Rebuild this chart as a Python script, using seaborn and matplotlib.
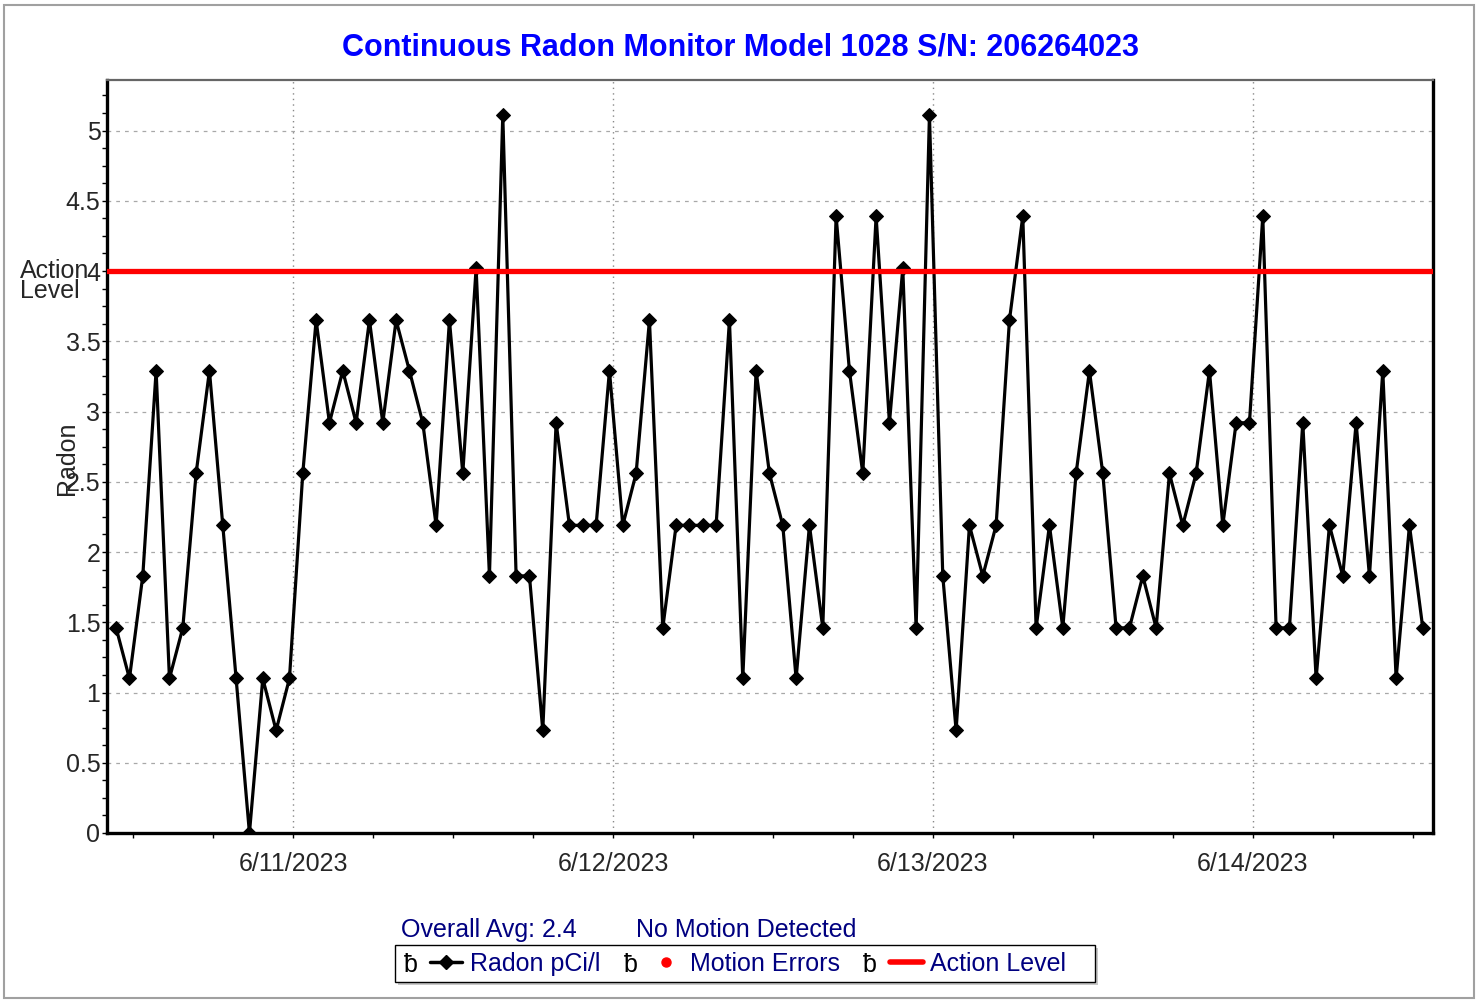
import pandas as pd
import seaborn as sns
import matplotlib.pyplot as plt
import matplotlib.dates as mdates
import matplotlib.transforms as mtransforms
from matplotlib.lines import Line2D
from matplotlib.patches import Rectangle
from matplotlib.ticker import MultipleLocator, FuncFormatter

# hourly radon readings (pCi/l)
radon = [1.46, 1.1, 1.83, 3.29, 1.1, 1.46, 2.56, 3.29, 2.19, 1.1,
         0.0, 1.1, 0.73, 1.1, 2.56, 3.65, 2.92, 3.29, 2.92, 3.65,
         2.92, 3.65, 3.29, 2.92, 2.19, 3.65, 2.56, 4.02, 1.83, 5.11,
         1.83, 1.83, 0.73, 2.92, 2.19, 2.19, 2.19, 3.29, 2.19, 2.56,
         3.65, 1.46, 2.19, 2.19, 2.19, 2.19, 3.65, 1.1, 3.29, 2.56,
         2.19, 1.1, 2.19, 1.46, 4.39, 3.29, 2.56, 4.39, 2.92, 4.02,
         1.46, 5.11, 1.83, 0.73, 2.19, 1.83, 2.19, 3.65, 4.39, 1.46,
         2.19, 1.46, 2.56, 3.29, 2.56, 1.46, 1.46, 1.83, 1.46, 2.56,
         2.19, 2.56, 3.29, 2.19, 2.92, 2.92, 4.39, 1.46, 1.46, 2.92,
         1.1, 2.19, 1.83, 2.92, 1.83, 3.29, 1.1, 2.19, 1.46]
first_reading = "2023-06-10 10:44"
x_start = "2023-06-10 10:03"
x_end = "2023-06-14 13:30"
action_level = 4.0
overall_avg = "2.4"
serial = "206264023"
legend_labels = ["Radon pCi/l", "Motion Errors", "Action Level"]

times = pd.date_range(first_reading, periods=len(radon), freq="h")
df = pd.DataFrame({"time": times, "radon": radon})

sns.set_style("white")
plt.rcParams["font.family"] = ["Liberation Sans", "DejaVu Sans"]
FS = 18

W, H = 1478, 1000
fig = plt.figure(figsize=(W / 100, H / 100), dpi=100)
ax = fig.add_axes([107 / W, 1 - 833 / H, (1433 - 107) / W, (833 - 80) / H])

sns.lineplot(data=df, x="time", y="radon", ax=ax, color="black", lw=2.3,
             marker="D", markersize=7.5, markeredgecolor="black", zorder=3)
ax.axhline(action_level, color="#ff0000", lw=3.8, zorder=4)

ax.set_xlim(pd.Timestamp(x_start), pd.Timestamp(x_end))
ax.set_ylim(0, 5.36)
ax.set_xlabel("")
ax.set_ylabel("")

ax.xaxis.set_major_locator(mdates.DayLocator())
ax.xaxis.set_minor_locator(mdates.HourLocator(byhour=[6, 12, 18]))
ax.xaxis.set_major_formatter(FuncFormatter(
    lambda v, p: "{d.month}/{d.day}/{d.year}".format(d=mdates.num2date(v))))
ax.yaxis.set_major_locator(MultipleLocator(0.5))
ax.yaxis.set_minor_locator(MultipleLocator(0.125))
ax.yaxis.set_major_formatter(FuncFormatter(lambda v, p: "%g" % v))

ax.tick_params(axis="both", which="both", direction="out", length=3.5,
               width=1, color="black", labelsize=FS)
ax.tick_params(axis="y", which="major", pad=1.2)
ax.tick_params(axis="x", which="major", pad=10)
ax.tick_params(left=True, bottom=True, which="both")

ax.yaxis.grid(True, which="major", linestyle=(0, (3, 4)), color="#a8a8a8", lw=0.9)
ax.xaxis.grid(True, which="major", linestyle=(0, (1, 3)), color="#888888", lw=1.0)

for side in ["left", "right", "bottom"]:
    ax.spines[side].set_color("black")
    ax.spines[side].set_linewidth(2.4)
ax.spines["top"].set_color("#666666")
ax.spines["top"].set_linewidth(1.6)

# titles and side texts
fig.text(741 / W, 1 - 47 / H, "Continuous Radon Monitor Model 1028 S/N: " + serial,
         ha="center", va="center", fontsize=22, fontweight="bold", color="#0000ff")
fig.text(67 / W, 1 - 458 / H, "Radon", rotation=90, ha="center", va="center", fontsize=FS)
blend = mtransforms.blended_transform_factory(fig.transFigure, ax.transData)
ax.text(20 / W, action_level, "Action", transform=blend, ha="left", va="center", fontsize=FS)
ax.text(20 / W, action_level, "Level", ha="left", va="center", fontsize=FS,
        transform=mtransforms.offset_copy(blend, fig=fig, y=-20, units="dots"))

fig.text(401 / W, 1 - 930 / H, "Overall Avg: " + overall_avg, ha="left", va="center",
         fontsize=FS, color="#000080")
fig.text(636 / W, 1 - 930 / H, "No Motion Detected", ha="left", va="center",
         fontsize=FS, color="#000080")

# legend
handles = [Line2D([], [], color="black", lw=2.5, marker="D", markersize=7),
           Line2D([], [], ls="none", marker="o", markersize=6.5,
                  markerfacecolor="red", markeredgecolor="red"),
           Line2D([], [], color="red", lw=4)]
leg = fig.legend(handles, legend_labels, loc="center", bbox_to_anchor=(748 / W, 1 - 964 / H),
                 ncol=3, frameon=False, fontsize=FS, handlelength=1.3,
                 handletextpad=0.3, columnspacing=2.0, labelcolor="#000080")

# checkbox glyphs in front of each legend entry
fig.canvas.draw()
r = fig.canvas.get_renderer()
glyph_gap = [-14, -26, -20]
for h, gap in zip(leg.legend_handles, glyph_gap):
    bb = h.get_window_extent(r)
    gx = (bb.x0 + bb.x1) / 2 + gap - 10 if h.get_linestyle() == "None" else bb.x0 + gap
    fig.text(gx, (bb.y0 + bb.y1) / 2 - 3, "ƀ", transform=None, ha="center",
             va="center", fontsize=FS, color="black")
x0, x1 = 395, 1095
y0, y1 = H - 982, H - 945
fig.patches.append(Rectangle((x0 + 3, y0 - 3), x1 - x0, y1 - y0, transform=None,
                             facecolor="#c8c8c8", edgecolor="none", zorder=0))
fig.patches.append(Rectangle((x0, y0), x1 - x0, y1 - y0, transform=None,
                             facecolor="white", edgecolor="black", lw=1, zorder=1))
fig.patches.append(Rectangle((0.003, 0.002), 0.994, 0.993, transform=fig.transFigure,
                             fill=False, edgecolor="#a0a0a0", lw=1.5))

fig.savefig("out.png", dpi=100)
